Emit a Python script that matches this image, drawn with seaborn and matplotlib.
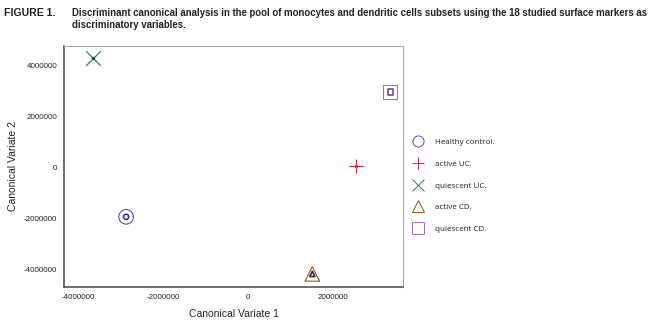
import matplotlib
matplotlib.use("Agg")
import matplotlib.pyplot as plt
import seaborn as sns
import pandas as pd
from matplotlib.lines import Line2D

groups = ["Healthy control.", "active UC.", "quiescent UC.", "active CD.", "quiescent CD."]
cv1 = [-2870000, 2540000, -3650000, 1510000, 3340000]
cv2 = [-1920000, 80000, 4310000, -4160000, 2980000]
colors = ["#5b4fa6", "#c2304e", "#2e7d74", "#8a5a34", "#9a70c4"]
inner_colors = ["#3b3290", "#c2304e", "#1f4f4a", "#3a2a20", "#6a4a94"]
markers = ["o", "+", "x", "^", "s"]
xticks = [-4000000, -2000000, 0, 2000000]
yticks = [-4000000, -2000000, 0, 2000000, 4000000]

df = pd.DataFrame({"CV1": cv1, "CV2": cv2, "group": groups})
pal = dict(zip(groups, colors))
ipal = dict(zip(groups, inner_colors))
mk = dict(zip(groups, markers))

sns.set_style("white")
plt.rcParams['font.family'] = ['Liberation Sans', 'DejaVu Sans']

fig = plt.figure(figsize=(6.5, 3.22), dpi=100)
ax = fig.add_axes([0.0985, 0.109, 0.522, 0.748])

# outer hollow markers
for g in groups:
    sub = df[df.group == g]
    m = mk[g]
    if m in ["+", "x"]:
        sns.scatterplot(data=sub, x="CV1", y="CV2", marker=m, color=pal[g], s=110,
                        linewidth=0.9, ax=ax, legend=False)
    else:
        sns.scatterplot(data=sub, x="CV1", y="CV2", marker=m, s=110, ax=ax, legend=False,
                        facecolor="none", edgecolor=pal[g], linewidth=0.8)
# inner small markers
for g in groups:
    sub = df[df.group == g]
    m = mk[g]
    if m in ["+", "x"]:
        sns.scatterplot(data=sub, x="CV1", y="CV2", marker="o", color=ipal[g], s=6,
                        linewidth=0, ax=ax, legend=False)
    else:
        sns.scatterplot(data=sub, x="CV1", y="CV2", marker=m, s=14, ax=ax, legend=False,
                        facecolor="none", edgecolor=ipal[g], linewidth=1.2)

ax.set_xlim(-4330000, 3650000)
ax.set_ylim(-4670000, 4780000)
ax.set_xticks(xticks)
ax.set_yticks(yticks)
ax.set_xticklabels([str(v) for v in xticks], fontsize=5.8)
ax.set_yticklabels([str(v) for v in yticks], fontsize=5.8)
ax.tick_params(axis="both", length=3, width=0.6, color="#555555", pad=2)
ax.set_xlabel("Canonical Variate 1", fontsize=7.5, labelpad=6)
ax.set_ylabel("Canonical Variate 2", fontsize=7.5)
ax.yaxis.set_label_coords(-0.135, 0.5)
for side in ["left", "bottom"]:
    ax.spines[side].set_color("#555555")
    ax.spines[side].set_linewidth(1.2)
for side in ["top", "right"]:
    ax.spines[side].set_color("#aaaaaa")
    ax.spines[side].set_linewidth(0.8)

handles = []
for g in groups:
    m = mk[g]
    if m in ["+", "x"]:
        h = Line2D([], [], marker=m, color=pal[g], linestyle="none", markersize=8, markeredgewidth=0.7)
    else:
        h = Line2D([], [], marker=m, color=pal[g], markerfacecolor="none", linestyle="none",
                   markersize=8, markeredgewidth=0.7)
    handles.append(h)
leg = fig.legend(handles, groups, loc="upper left", bbox_to_anchor=(0.625, 0.58),
                 frameon=False, prop={"family": "Open Sans", "size": 5.8},
                 labelspacing=1.75, handletextpad=1.2, borderaxespad=0)
for t in leg.get_texts():
    t.set_color("#222222")

fig.text(0.006, 0.975, "FIGURE 1.", fontsize=7.6, fontweight="bold", va="top", ha="left", color="#222222")
fig.text(0.111, 0.975, "Discriminant canonical analysis in the pool of monocytes and dendritic cells subsets using the 18 studied surface markers as\ndiscriminatory variables.",
         fontsize=6.9, fontweight="bold", va="top", ha="left", color="#222222", linespacing=1.3)

fig.savefig("out.png", dpi=100)
